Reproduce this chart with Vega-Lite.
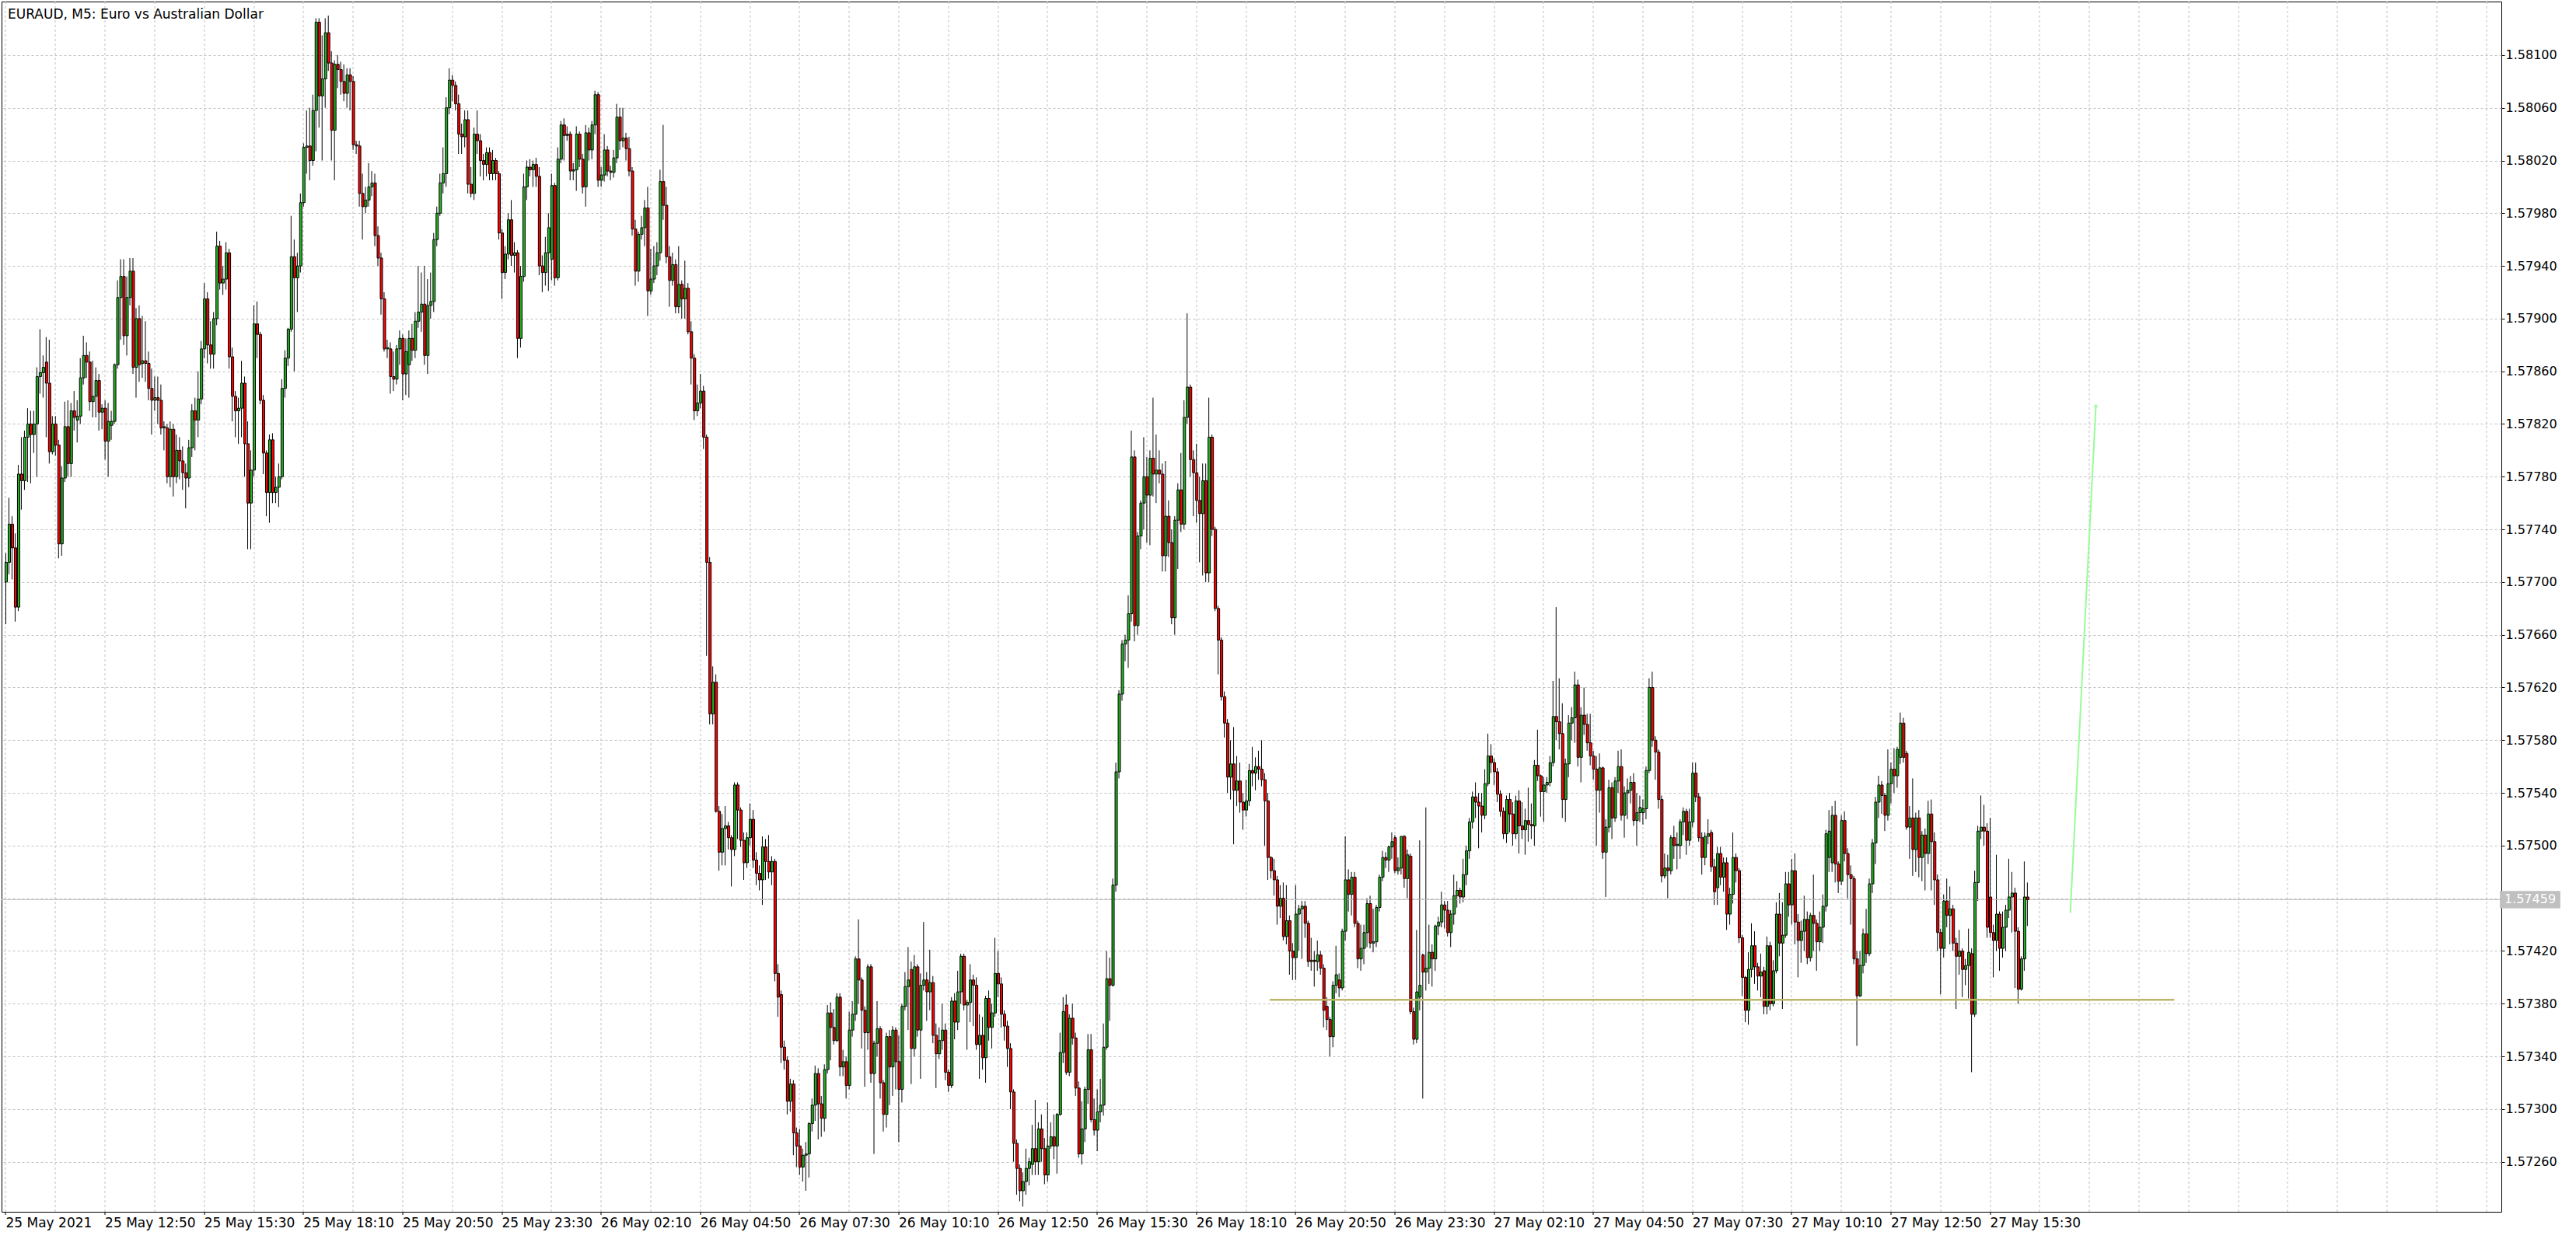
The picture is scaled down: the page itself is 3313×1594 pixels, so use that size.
{
"$schema":"https://vega.github.io/schema/vega-lite/v6.json",
"width":3215,"height":1557,
"autosize":{"type":"none"},
"padding":{"left":2,"top":2,"right":96,"bottom":35},
"background":"white",
"config":{"view":{"stroke":"black","strokeWidth":1},"font":"DejaVu Sans"},
"title":{"text":"EURAUD, M5:  Euro vs Australian Dollar","anchor":"start","frame":"group","offset":-20,"dx":8,"dy":19,"fontSize":17,"font":"DejaVu Sans","fontWeight":"normal","color":"black","baseline":"alphabetic"},
"data":{"values":[
{"i":0,"o":1.57700,"h":1.57722,"l":1.57668,"c":1.57715},
{"i":1,"o":1.57715,"h":1.57764,"l":1.57706,"c":1.57744},
{"i":2,"o":1.57744,"h":1.57750,"l":1.57702,"c":1.57726},
{"i":3,"o":1.57726,"h":1.57737,"l":1.57670,"c":1.57681},
{"i":4,"o":1.57681,"h":1.57789,"l":1.57678,"c":1.57782},
{"i":5,"o":1.57782,"h":1.57810,"l":1.57755,"c":1.57777},
{"i":6,"o":1.57777,"h":1.57815,"l":1.57770,"c":1.57810},
{"i":7,"o":1.57810,"h":1.57832,"l":1.57776,"c":1.57820},
{"i":8,"o":1.57820,"h":1.57830,"l":1.57775,"c":1.57812},
{"i":9,"o":1.57812,"h":1.57830,"l":1.57798,"c":1.57820},
{"i":10,"o":1.57820,"h":1.57863,"l":1.57780,"c":1.57856},
{"i":11,"o":1.57856,"h":1.57892,"l":1.57843,"c":1.57859},
{"i":12,"o":1.57859,"h":1.57872,"l":1.57840,"c":1.57863},
{"i":13,"o":1.57867,"h":1.57886,"l":1.57810,"c":1.57851},
{"i":14,"o":1.57851,"h":1.57884,"l":1.57790,"c":1.57799},
{"i":15,"o":1.57799,"h":1.57826,"l":1.57797,"c":1.57820},
{"i":16,"o":1.57820,"h":1.57826,"l":1.57796,"c":1.57804},
{"i":17,"o":1.57804,"h":1.57808,"l":1.57718,"c":1.57729},
{"i":18,"o":1.57729,"h":1.57788,"l":1.57720,"c":1.57779},
{"i":19,"o":1.57779,"h":1.57837,"l":1.57776,"c":1.57818},
{"i":20,"o":1.57818,"h":1.57838,"l":1.57780,"c":1.57790},
{"i":21,"o":1.57790,"h":1.57836,"l":1.57780,"c":1.57830},
{"i":22,"o":1.57830,"h":1.57845,"l":1.57815,"c":1.57825},
{"i":23,"o":1.57823,"h":1.57838,"l":1.57806,"c":1.57826},
{"i":24,"o":1.57826,"h":1.57870,"l":1.57820,"c":1.57855},
{"i":25,"o":1.57855,"h":1.57887,"l":1.57850,"c":1.57872},
{"i":26,"o":1.57872,"h":1.57882,"l":1.57855,"c":1.57867},
{"i":27,"o":1.57867,"h":1.57875,"l":1.57830,"c":1.57837},
{"i":28,"o":1.57837,"h":1.57868,"l":1.57825,"c":1.57841},
{"i":29,"o":1.57841,"h":1.57863,"l":1.57825,"c":1.57853},
{"i":30,"o":1.57853,"h":1.57858,"l":1.57815,"c":1.57829},
{"i":31,"o":1.57829,"h":1.57835,"l":1.57816,"c":1.57832},
{"i":32,"o":1.57832,"h":1.57838,"l":1.57793,"c":1.57807},
{"i":33,"o":1.57807,"h":1.57836,"l":1.57780,"c":1.57822},
{"i":34,"o":1.57819,"h":1.57830,"l":1.57808,"c":1.57822},
{"i":35,"o":1.57822,"h":1.57866,"l":1.57820,"c":1.57865},
{"i":36,"o":1.57865,"h":1.57929,"l":1.57862,"c":1.57916},
{"i":37,"o":1.57916,"h":1.57945,"l":1.57884,"c":1.57932},
{"i":38,"o":1.57932,"h":1.57945,"l":1.57880,"c":1.57887},
{"i":39,"o":1.57887,"h":1.57932,"l":1.57872,"c":1.57916},
{"i":40,"o":1.57916,"h":1.57946,"l":1.57910,"c":1.57936},
{"i":41,"o":1.57936,"h":1.57946,"l":1.57858,"c":1.57863},
{"i":42,"o":1.57863,"h":1.57908,"l":1.57840,"c":1.57900},
{"i":43,"o":1.57900,"h":1.57910,"l":1.57852,"c":1.57865},
{"i":44,"o":1.57866,"h":1.57902,"l":1.57855,"c":1.57868},
{"i":45,"o":1.57868,"h":1.57898,"l":1.57852,"c":1.57866},
{"i":46,"o":1.57866,"h":1.57875,"l":1.57838,"c":1.57847},
{"i":47,"o":1.57847,"h":1.57862,"l":1.57812,"c":1.57838},
{"i":48,"o":1.57838,"h":1.57856,"l":1.57830,"c":1.57840},
{"i":49,"o":1.57840,"h":1.57856,"l":1.57820,"c":1.57838},
{"i":50,"o":1.57838,"h":1.57850,"l":1.57812,"c":1.57817},
{"i":51,"o":1.57817,"h":1.57822,"l":1.57800,"c":1.57818},
{"i":52,"o":1.57817,"h":1.57820,"l":1.57775,"c":1.57780},
{"i":53,"o":1.57780,"h":1.57822,"l":1.57772,"c":1.57816},
{"i":54,"o":1.57816,"h":1.57820,"l":1.57765,"c":1.57780},
{"i":55,"o":1.57780,"h":1.57812,"l":1.57775,"c":1.57800},
{"i":56,"o":1.57800,"h":1.57810,"l":1.57778,"c":1.57792},
{"i":57,"o":1.57792,"h":1.57803,"l":1.57770,"c":1.57783},
{"i":58,"o":1.57783,"h":1.57790,"l":1.57756,"c":1.57779},
{"i":59,"o":1.57779,"h":1.57808,"l":1.57772,"c":1.57802},
{"i":60,"o":1.57802,"h":1.57835,"l":1.57795,"c":1.57830},
{"i":61,"o":1.57830,"h":1.57840,"l":1.57800,"c":1.57823},
{"i":62,"o":1.57823,"h":1.57860,"l":1.57810,"c":1.57839},
{"i":63,"o":1.57839,"h":1.57883,"l":1.57835,"c":1.57877},
{"i":64,"o":1.57877,"h":1.57927,"l":1.57870,"c":1.57915},
{"i":65,"o":1.57915,"h":1.57920,"l":1.57866,"c":1.57880},
{"i":66,"o":1.57880,"h":1.57898,"l":1.57862,"c":1.57873},
{"i":67,"o":1.57873,"h":1.57905,"l":1.57862,"c":1.57900},
{"i":68,"o":1.57900,"h":1.57966,"l":1.57895,"c":1.57955},
{"i":69,"o":1.57955,"h":1.57959,"l":1.57922,"c":1.57927},
{"i":70,"o":1.57927,"h":1.57940,"l":1.57918,"c":1.57930},
{"i":71,"o":1.57930,"h":1.57958,"l":1.57922,"c":1.57950},
{"i":72,"o":1.57950,"h":1.57953,"l":1.57862,"c":1.57871},
{"i":73,"o":1.57871,"h":1.57878,"l":1.57822,"c":1.57841},
{"i":74,"o":1.57841,"h":1.57845,"l":1.57810,"c":1.57830},
{"i":75,"o":1.57830,"h":1.57840,"l":1.57805,"c":1.57832},
{"i":76,"o":1.57832,"h":1.57868,"l":1.57810,"c":1.57851},
{"i":77,"o":1.57851,"h":1.57856,"l":1.57780,"c":1.57805},
{"i":78,"o":1.57805,"h":1.57822,"l":1.57725,"c":1.57760},
{"i":79,"o":1.57760,"h":1.57800,"l":1.57725,"c":1.57785},
{"i":80,"o":1.57785,"h":1.57910,"l":1.57780,"c":1.57896},
{"i":81,"o":1.57896,"h":1.57913,"l":1.57870,"c":1.57888},
{"i":82,"o":1.57888,"h":1.57890,"l":1.57835,"c":1.57838},
{"i":83,"o":1.57838,"h":1.57842,"l":1.57782,"c":1.57798},
{"i":84,"o":1.57798,"h":1.57800,"l":1.57750,"c":1.57768},
{"i":85,"o":1.57768,"h":1.57812,"l":1.57745,"c":1.57808},
{"i":86,"o":1.57808,"h":1.57813,"l":1.57760,"c":1.57768},
{"i":87,"o":1.57768,"h":1.57780,"l":1.57760,"c":1.57772},
{"i":88,"o":1.57772,"h":1.57790,"l":1.57757,"c":1.57780},
{"i":89,"o":1.57780,"h":1.57854,"l":1.57778,"c":1.57847},
{"i":90,"o":1.57847,"h":1.57876,"l":1.57840,"c":1.57870},
{"i":91,"o":1.57870,"h":1.57893,"l":1.57864,"c":1.57892},
{"i":92,"o":1.57892,"h":1.57978,"l":1.57890,"c":1.57947},
{"i":93,"o":1.57947,"h":1.57960,"l":1.57860,"c":1.57931},
{"i":94,"o":1.57931,"h":1.57950,"l":1.57905,"c":1.57940},
{"i":95,"o":1.57940,"h":1.57995,"l":1.57935,"c":1.57988},
{"i":96,"o":1.57988,"h":1.58033,"l":1.57985,"c":1.58030},
{"i":97,"o":1.58030,"h":1.58058,"l":1.58010,"c":1.58031},
{"i":98,"o":1.58031,"h":1.58060,"l":1.58005,"c":1.58020},
{"i":99,"o":1.58020,"h":1.58070,"l":1.58016,"c":1.58058},
{"i":100,"o":1.58058,"h":1.58128,"l":1.58027,"c":1.58125},
{"i":101,"o":1.58125,"h":1.58128,"l":1.58045,"c":1.58069},
{"i":102,"o":1.58069,"h":1.58115,"l":1.58020,"c":1.58082},
{"i":103,"o":1.58082,"h":1.58128,"l":1.58060,"c":1.58117},
{"i":104,"o":1.58117,"h":1.58130,"l":1.58088,"c":1.58094},
{"i":105,"o":1.58094,"h":1.58103,"l":1.58020,"c":1.58043},
{"i":106,"o":1.58043,"h":1.58096,"l":1.58005,"c":1.58093},
{"i":107,"o":1.58093,"h":1.58100,"l":1.58075,"c":1.58089},
{"i":108,"o":1.58089,"h":1.58095,"l":1.58070,"c":1.58080},
{"i":109,"o":1.58080,"h":1.58093,"l":1.58065,"c":1.58071},
{"i":110,"o":1.58071,"h":1.58090,"l":1.58060,"c":1.58085},
{"i":111,"o":1.58085,"h":1.58090,"l":1.58058,"c":1.58080},
{"i":112,"o":1.58080,"h":1.58084,"l":1.58028,"c":1.58032},
{"i":113,"o":1.58032,"h":1.58035,"l":1.58025,"c":1.58031},
{"i":114,"o":1.58031,"h":1.58035,"l":1.57985,"c":1.57995},
{"i":115,"o":1.57995,"h":1.58010,"l":1.57960,"c":1.57985},
{"i":116,"o":1.57985,"h":1.58000,"l":1.57980,"c":1.57990},
{"i":117,"o":1.57990,"h":1.58018,"l":1.57985,"c":1.58000},
{"i":118,"o":1.58000,"h":1.58012,"l":1.57993,"c":1.58003},
{"i":119,"o":1.58003,"h":1.58010,"l":1.57955,"c":1.57963},
{"i":120,"o":1.57963,"h":1.57970,"l":1.57940,"c":1.57946},
{"i":121,"o":1.57946,"h":1.57950,"l":1.57903,"c":1.57915},
{"i":122,"o":1.57915,"h":1.57920,"l":1.57875,"c":1.57877},
{"i":123,"o":1.57877,"h":1.57884,"l":1.57870,"c":1.57878},
{"i":124,"o":1.57877,"h":1.57882,"l":1.57843,"c":1.57856},
{"i":125,"o":1.57856,"h":1.57875,"l":1.57845,"c":1.57854},
{"i":126,"o":1.57854,"h":1.57880,"l":1.57850,"c":1.57877},
{"i":127,"o":1.57877,"h":1.57891,"l":1.57865,"c":1.57885},
{"i":128,"o":1.57885,"h":1.57888,"l":1.57838,"c":1.57858},
{"i":129,"o":1.57858,"h":1.57885,"l":1.57842,"c":1.57875},
{"i":130,"o":1.57865,"h":1.57891,"l":1.57840,"c":1.57885},
{"i":131,"o":1.57885,"h":1.57896,"l":1.57868,"c":1.57876},
{"i":132,"o":1.57876,"h":1.57905,"l":1.57870,"c":1.57898},
{"i":133,"o":1.57898,"h":1.57940,"l":1.57893,"c":1.57905},
{"i":134,"o":1.57905,"h":1.57935,"l":1.57890,"c":1.57911},
{"i":135,"o":1.57911,"h":1.57940,"l":1.57865,"c":1.57872},
{"i":136,"o":1.57872,"h":1.57930,"l":1.57858,"c":1.57910},
{"i":137,"o":1.57910,"h":1.57935,"l":1.57900,"c":1.57913},
{"i":138,"o":1.57913,"h":1.57965,"l":1.57905,"c":1.57960},
{"i":139,"o":1.57960,"h":1.57985,"l":1.57955,"c":1.57980},
{"i":140,"o":1.57980,"h":1.58010,"l":1.57978,"c":1.58003},
{"i":141,"o":1.58003,"h":1.58030,"l":1.57995,"c":1.58010},
{"i":142,"o":1.58010,"h":1.58068,"l":1.58000,"c":1.58060},
{"i":143,"o":1.58060,"h":1.58090,"l":1.58055,"c":1.58081},
{"i":144,"o":1.58081,"h":1.58085,"l":1.58065,"c":1.58077},
{"i":145,"o":1.58077,"h":1.58080,"l":1.58058,"c":1.58063},
{"i":146,"o":1.58063,"h":1.58070,"l":1.58025,"c":1.58040},
{"i":147,"o":1.58040,"h":1.58048,"l":1.58025,"c":1.58038},
{"i":148,"o":1.58038,"h":1.58058,"l":1.58030,"c":1.58051},
{"i":149,"o":1.58051,"h":1.58058,"l":1.57995,"c":1.58002},
{"i":150,"o":1.58002,"h":1.58015,"l":1.57992,"c":1.57995},
{"i":151,"o":1.57995,"h":1.58045,"l":1.57990,"c":1.58040},
{"i":152,"o":1.58040,"h":1.58058,"l":1.58025,"c":1.58035},
{"i":153,"o":1.58035,"h":1.58040,"l":1.58008,"c":1.58020},
{"i":154,"o":1.58020,"h":1.58025,"l":1.58005,"c":1.58017},
{"i":155,"o":1.58017,"h":1.58030,"l":1.58008,"c":1.58026},
{"i":156,"o":1.58026,"h":1.58030,"l":1.58005,"c":1.58010},
{"i":157,"o":1.58010,"h":1.58028,"l":1.58005,"c":1.58020},
{"i":158,"o":1.58020,"h":1.58022,"l":1.58005,"c":1.58010},
{"i":159,"o":1.58010,"h":1.58012,"l":1.57960,"c":1.57965},
{"i":160,"o":1.57965,"h":1.57968,"l":1.57915,"c":1.57935},
{"i":161,"o":1.57935,"h":1.57955,"l":1.57930,"c":1.57949},
{"i":162,"o":1.57949,"h":1.57980,"l":1.57945,"c":1.57975},
{"i":163,"o":1.57975,"h":1.57990,"l":1.57940,"c":1.57948},
{"i":164,"o":1.57948,"h":1.57958,"l":1.57935,"c":1.57950},
{"i":165,"o":1.57950,"h":1.57952,"l":1.57870,"c":1.57885},
{"i":166,"o":1.57885,"h":1.57940,"l":1.57878,"c":1.57932},
{"i":167,"o":1.57932,"h":1.58010,"l":1.57928,"c":1.58000},
{"i":168,"o":1.58000,"h":1.58020,"l":1.57990,"c":1.58015},
{"i":169,"o":1.58015,"h":1.58021,"l":1.58008,"c":1.58013},
{"i":170,"o":1.58013,"h":1.58020,"l":1.58000,"c":1.58017},
{"i":171,"o":1.58017,"h":1.58022,"l":1.58000,"c":1.58008},
{"i":172,"o":1.58008,"h":1.58015,"l":1.57933,"c":1.57940},
{"i":173,"o":1.57940,"h":1.57948,"l":1.57920,"c":1.57935},
{"i":174,"o":1.57935,"h":1.57962,"l":1.57925,"c":1.57950},
{"i":175,"o":1.57950,"h":1.57980,"l":1.57921,"c":1.57969},
{"i":176,"o":1.57945,"h":1.58010,"l":1.57929,"c":1.58001},
{"i":177,"o":1.58001,"h":1.58003,"l":1.57925,"c":1.57931},
{"i":178,"o":1.57931,"h":1.58030,"l":1.57929,"c":1.58021},
{"i":179,"o":1.58021,"h":1.58050,"l":1.58018,"c":1.58047},
{"i":180,"o":1.58047,"h":1.58052,"l":1.58020,"c":1.58039},
{"i":181,"o":1.58039,"h":1.58046,"l":1.58035,"c":1.58040},
{"i":182,"o":1.58040,"h":1.58042,"l":1.58005,"c":1.58012},
{"i":183,"o":1.58012,"h":1.58018,"l":1.58005,"c":1.58013},
{"i":184,"o":1.58013,"h":1.58046,"l":1.57997,"c":1.58040},
{"i":185,"o":1.58040,"h":1.58042,"l":1.58015,"c":1.58021},
{"i":186,"o":1.58021,"h":1.58025,"l":1.57995,"c":1.58000},
{"i":187,"o":1.58000,"h":1.58047,"l":1.57985,"c":1.58041},
{"i":188,"o":1.58041,"h":1.58045,"l":1.58020,"c":1.58028},
{"i":189,"o":1.58028,"h":1.58050,"l":1.58021,"c":1.58047},
{"i":190,"o":1.58047,"h":1.58073,"l":1.58040,"c":1.58070},
{"i":191,"o":1.58070,"h":1.58072,"l":1.58000,"c":1.58005},
{"i":192,"o":1.58005,"h":1.58015,"l":1.58000,"c":1.58009},
{"i":193,"o":1.58009,"h":1.58040,"l":1.58004,"c":1.58028},
{"i":194,"o":1.58028,"h":1.58031,"l":1.58008,"c":1.58012},
{"i":195,"o":1.58012,"h":1.58016,"l":1.58005,"c":1.58011},
{"i":196,"o":1.58011,"h":1.58028,"l":1.58007,"c":1.58022},
{"i":197,"o":1.58022,"h":1.58063,"l":1.58018,"c":1.58053},
{"i":198,"o":1.58053,"h":1.58060,"l":1.58028,"c":1.58035},
{"i":199,"o":1.58035,"h":1.58060,"l":1.58030,"c":1.58037},
{"i":200,"o":1.58037,"h":1.58041,"l":1.58020,"c":1.58029},
{"i":201,"o":1.58029,"h":1.58038,"l":1.58008,"c":1.58012},
{"i":202,"o":1.58012,"h":1.58015,"l":1.57963,"c":1.57968},
{"i":203,"o":1.57968,"h":1.57975,"l":1.57925,"c":1.57936},
{"i":204,"o":1.57936,"h":1.57966,"l":1.57928,"c":1.57964},
{"i":205,"o":1.57964,"h":1.57978,"l":1.57960,"c":1.57969},
{"i":206,"o":1.57969,"h":1.57990,"l":1.57955,"c":1.57984},
{"i":207,"o":1.57984,"h":1.58000,"l":1.57902,"c":1.57921},
{"i":208,"o":1.57921,"h":1.57953,"l":1.57918,"c":1.57930},
{"i":209,"o":1.57930,"h":1.57955,"l":1.57927,"c":1.57940},
{"i":210,"o":1.57940,"h":1.57958,"l":1.57933,"c":1.57950},
{"i":211,"o":1.57950,"h":1.58013,"l":1.57944,"c":1.58004},
{"i":212,"o":1.58004,"h":1.58047,"l":1.57975,"c":1.57986},
{"i":213,"o":1.57986,"h":1.58000,"l":1.57942,"c":1.57947},
{"i":214,"o":1.57947,"h":1.57955,"l":1.57909,"c":1.57929},
{"i":215,"o":1.57929,"h":1.57950,"l":1.57925,"c":1.57941},
{"i":216,"o":1.57941,"h":1.57945,"l":1.57904,"c":1.57909},
{"i":217,"o":1.57909,"h":1.57955,"l":1.57904,"c":1.57926},
{"i":218,"o":1.57926,"h":1.57929,"l":1.57900,"c":1.57915},
{"i":219,"o":1.57915,"h":1.57944,"l":1.57900,"c":1.57923},
{"i":220,"o":1.57923,"h":1.57927,"l":1.57888,"c":1.57890},
{"i":221,"o":1.57890,"h":1.57898,"l":1.57850,"c":1.57870},
{"i":222,"o":1.57870,"h":1.57873,"l":1.57823,"c":1.57830},
{"i":223,"o":1.57830,"h":1.57850,"l":1.57826,"c":1.57836},
{"i":224,"o":1.57836,"h":1.57858,"l":1.57832,"c":1.57845},
{"i":225,"o":1.57845,"h":1.57849,"l":1.57801,"c":1.57810},
{"i":226,"o":1.57810,"h":1.57812,"l":1.57644,"c":1.57715},
{"i":227,"o":1.57715,"h":1.57719,"l":1.57592,"c":1.57600},
{"i":228,"o":1.57600,"h":1.57636,"l":1.57592,"c":1.57624},
{"i":229,"o":1.57624,"h":1.57630,"l":1.57525,"c":1.57526},
{"i":230,"o":1.57526,"h":1.57530,"l":1.57481,"c":1.57495},
{"i":231,"o":1.57495,"h":1.57524,"l":1.57485,"c":1.57513},
{"i":232,"o":1.57513,"h":1.57530,"l":1.57485,"c":1.57515},
{"i":233,"o":1.57515,"h":1.57518,"l":1.57497,"c":1.57506},
{"i":234,"o":1.57506,"h":1.57508,"l":1.57469,"c":1.57497},
{"i":235,"o":1.57497,"h":1.57548,"l":1.57492,"c":1.57546},
{"i":236,"o":1.57546,"h":1.57548,"l":1.57505,"c":1.57527},
{"i":237,"o":1.57527,"h":1.57529,"l":1.57499,"c":1.57504},
{"i":238,"o":1.57504,"h":1.57510,"l":1.57474,"c":1.57487},
{"i":239,"o":1.57487,"h":1.57510,"l":1.57483,"c":1.57506},
{"i":240,"o":1.57506,"h":1.57532,"l":1.57500,"c":1.57520},
{"i":241,"o":1.57520,"h":1.57527,"l":1.57483,"c":1.57489},
{"i":242,"o":1.57489,"h":1.57495,"l":1.57470,"c":1.57479},
{"i":243,"o":1.57479,"h":1.57485,"l":1.57466,"c":1.57474},
{"i":244,"o":1.57474,"h":1.57507,"l":1.57455,"c":1.57499},
{"i":245,"o":1.57499,"h":1.57505,"l":1.57474,"c":1.57488},
{"i":246,"o":1.57488,"h":1.57508,"l":1.57475,"c":1.57480},
{"i":247,"o":1.57480,"h":1.57492,"l":1.57470,"c":1.57488},
{"i":248,"o":1.57488,"h":1.57490,"l":1.57397,"c":1.57403},
{"i":249,"o":1.57403,"h":1.57410,"l":1.57370,"c":1.57385},
{"i":250,"o":1.57387,"h":1.57390,"l":1.57335,"c":1.57347},
{"i":251,"o":1.57347,"h":1.57352,"l":1.57330,"c":1.57337},
{"i":252,"o":1.57337,"h":1.57340,"l":1.57296,"c":1.57306},
{"i":253,"o":1.57306,"h":1.57323,"l":1.57298,"c":1.57319},
{"i":254,"o":1.57319,"h":1.57322,"l":1.57265,"c":1.57282},
{"i":255,"o":1.57282,"h":1.57286,"l":1.57256,"c":1.57272},
{"i":256,"o":1.57272,"h":1.57285,"l":1.57250,"c":1.57256},
{"i":257,"o":1.57256,"h":1.57270,"l":1.57245,"c":1.57265},
{"i":258,"o":1.57265,"h":1.57275,"l":1.57238,"c":1.57266},
{"i":259,"o":1.57266,"h":1.57290,"l":1.57248,"c":1.57289},
{"i":260,"o":1.57289,"h":1.57308,"l":1.57283,"c":1.57303},
{"i":261,"o":1.57303,"h":1.57333,"l":1.57291,"c":1.57327},
{"i":262,"o":1.57327,"h":1.57331,"l":1.57277,"c":1.57304},
{"i":263,"o":1.57304,"h":1.57310,"l":1.57279,"c":1.57293},
{"i":264,"o":1.57293,"h":1.57334,"l":1.57283,"c":1.57330},
{"i":265,"o":1.57330,"h":1.57379,"l":1.57327,"c":1.57373},
{"i":266,"o":1.57373,"h":1.57381,"l":1.57337,"c":1.57362},
{"i":267,"o":1.57362,"h":1.57376,"l":1.57349,"c":1.57352},
{"i":268,"o":1.57352,"h":1.57388,"l":1.57351,"c":1.57385},
{"i":269,"o":1.57385,"h":1.57388,"l":1.57325,"c":1.57332},
{"i":270,"o":1.57332,"h":1.57345,"l":1.57325,"c":1.57336},
{"i":271,"o":1.57336,"h":1.57340,"l":1.57308,"c":1.57318},
{"i":272,"o":1.57318,"h":1.57374,"l":1.57315,"c":1.57360},
{"i":273,"o":1.57360,"h":1.57382,"l":1.57355,"c":1.57372},
{"i":274,"o":1.57372,"h":1.57416,"l":1.57367,"c":1.57414},
{"i":275,"o":1.57414,"h":1.57444,"l":1.57380,"c":1.57398},
{"i":276,"o":1.57398,"h":1.57400,"l":1.57346,"c":1.57375},
{"i":277,"o":1.57375,"h":1.57378,"l":1.57317,"c":1.57358},
{"i":278,"o":1.57358,"h":1.57410,"l":1.57345,"c":1.57408},
{"i":279,"o":1.57408,"h":1.57410,"l":1.57320,"c":1.57327},
{"i":280,"o":1.57327,"h":1.57352,"l":1.57266,"c":1.57350},
{"i":281,"o":1.57350,"h":1.57382,"l":1.57340,"c":1.57361},
{"i":282,"o":1.57361,"h":1.57363,"l":1.57308,"c":1.57320},
{"i":283,"o":1.57320,"h":1.57322,"l":1.57283,"c":1.57296},
{"i":284,"o":1.57296,"h":1.57358,"l":1.57286,"c":1.57355},
{"i":285,"o":1.57355,"h":1.57360,"l":1.57303,"c":1.57332},
{"i":286,"o":1.57332,"h":1.57363,"l":1.57310,"c":1.57360},
{"i":287,"o":1.57360,"h":1.57362,"l":1.57315,"c":1.57336},
{"i":288,"o":1.57336,"h":1.57356,"l":1.57275,"c":1.57315},
{"i":289,"o":1.57315,"h":1.57380,"l":1.57305,"c":1.57378},
{"i":290,"o":1.57378,"h":1.57404,"l":1.57375,"c":1.57393},
{"i":291,"o":1.57393,"h":1.57423,"l":1.57360,"c":1.57398},
{"i":292,"o":1.57406,"h":1.57412,"l":1.57319,"c":1.57346},
{"i":293,"o":1.57346,"h":1.57417,"l":1.57340,"c":1.57408},
{"i":294,"o":1.57408,"h":1.57410,"l":1.57355,"c":1.57360},
{"i":295,"o":1.57360,"h":1.57403,"l":1.57323,"c":1.57394},
{"i":296,"o":1.57394,"h":1.57442,"l":1.57390,"c":1.57398},
{"i":297,"o":1.57398,"h":1.57404,"l":1.57367,"c":1.57389},
{"i":298,"o":1.57389,"h":1.57421,"l":1.57375,"c":1.57396},
{"i":299,"o":1.57396,"h":1.57401,"l":1.57350,"c":1.57356},
{"i":300,"o":1.57356,"h":1.57365,"l":1.57316,"c":1.57342},
{"i":301,"o":1.57342,"h":1.57362,"l":1.57338,"c":1.57352},
{"i":302,"o":1.57352,"h":1.57380,"l":1.57345,"c":1.57360},
{"i":303,"o":1.57360,"h":1.57365,"l":1.57322,"c":1.57328},
{"i":304,"o":1.57328,"h":1.57330,"l":1.57313,"c":1.57318},
{"i":305,"o":1.57318,"h":1.57385,"l":1.57316,"c":1.57382},
{"i":306,"o":1.57382,"h":1.57388,"l":1.57353,"c":1.57366},
{"i":307,"o":1.57366,"h":1.57405,"l":1.57360,"c":1.57389},
{"i":308,"o":1.57389,"h":1.57418,"l":1.57380,"c":1.57416},
{"i":309,"o":1.57416,"h":1.57418,"l":1.57375,"c":1.57379},
{"i":310,"o":1.57379,"h":1.57383,"l":1.57345,"c":1.57381},
{"i":311,"o":1.57381,"h":1.57410,"l":1.57366,"c":1.57398},
{"i":312,"o":1.57398,"h":1.57402,"l":1.57363,"c":1.57394},
{"i":313,"o":1.57394,"h":1.57400,"l":1.57345,"c":1.57349},
{"i":314,"o":1.57349,"h":1.57372,"l":1.57323,"c":1.57356},
{"i":315,"o":1.57356,"h":1.57370,"l":1.57330,"c":1.57339},
{"i":316,"o":1.57339,"h":1.57386,"l":1.57320,"c":1.57384},
{"i":317,"o":1.57384,"h":1.57390,"l":1.57352,"c":1.57362},
{"i":318,"o":1.57362,"h":1.57380,"l":1.57346,"c":1.57373},
{"i":319,"o":1.57373,"h":1.57430,"l":1.57370,"c":1.57403},
{"i":320,"o":1.57403,"h":1.57420,"l":1.57385,"c":1.57395},
{"i":321,"o":1.57395,"h":1.57400,"l":1.57362,"c":1.57372},
{"i":322,"o":1.57372,"h":1.57375,"l":1.57352,"c":1.57363},
{"i":323,"o":1.57363,"h":1.57367,"l":1.57332,"c":1.57346},
{"i":324,"o":1.57346,"h":1.57350,"l":1.57300,"c":1.57313},
{"i":325,"o":1.57313,"h":1.57315,"l":1.57260,"c":1.57274},
{"i":326,"o":1.57274,"h":1.57277,"l":1.57235,"c":1.57255},
{"i":327,"o":1.57255,"h":1.57258,"l":1.57230,"c":1.57238},
{"i":328,"o":1.57238,"h":1.57252,"l":1.57226,"c":1.57245},
{"i":329,"o":1.57245,"h":1.57270,"l":1.57235,"c":1.57255},
{"i":330,"o":1.57255,"h":1.57263,"l":1.57242,"c":1.57260},
{"i":331,"o":1.57258,"h":1.57288,"l":1.57250,"c":1.57270},
{"i":332,"o":1.57270,"h":1.57307,"l":1.57250,"c":1.57260},
{"i":333,"o":1.57260,"h":1.57290,"l":1.57250,"c":1.57285},
{"i":334,"o":1.57285,"h":1.57296,"l":1.57260,"c":1.57270},
{"i":335,"o":1.57270,"h":1.57278,"l":1.57243,"c":1.57250},
{"i":336,"o":1.57250,"h":1.57305,"l":1.57245,"c":1.57272},
{"i":337,"o":1.57272,"h":1.57290,"l":1.57270,"c":1.57279},
{"i":338,"o":1.57279,"h":1.57296,"l":1.57262,"c":1.57272},
{"i":339,"o":1.57272,"h":1.57297,"l":1.57251,"c":1.57296},
{"i":340,"o":1.57296,"h":1.57358,"l":1.57295,"c":1.57343},
{"i":341,"o":1.57343,"h":1.57385,"l":1.57335,"c":1.57374},
{"i":342,"o":1.57379,"h":1.57387,"l":1.57326,"c":1.57328},
{"i":343,"o":1.57328,"h":1.57372,"l":1.57325,"c":1.57369},
{"i":344,"o":1.57369,"h":1.57380,"l":1.57349,"c":1.57354},
{"i":345,"o":1.57354,"h":1.57358,"l":1.57310,"c":1.57316},
{"i":346,"o":1.57316,"h":1.57321,"l":1.57263,"c":1.57266},
{"i":347,"o":1.57266,"h":1.57306,"l":1.57258,"c":1.57285},
{"i":348,"o":1.57285,"h":1.57317,"l":1.57275,"c":1.57315},
{"i":349,"o":1.57315,"h":1.57357,"l":1.57304,"c":1.57345},
{"i":350,"o":1.57345,"h":1.57357,"l":1.57290,"c":1.57292},
{"i":351,"o":1.57292,"h":1.57308,"l":1.57280,"c":1.57284},
{"i":352,"o":1.57284,"h":1.57315,"l":1.57268,"c":1.57298},
{"i":353,"o":1.57298,"h":1.57323,"l":1.57290,"c":1.57303},
{"i":354,"o":1.57303,"h":1.57365,"l":1.57295,"c":1.57347},
{"i":355,"o":1.57347,"h":1.57420,"l":1.57345,"c":1.57399},
{"i":356,"o":1.57399,"h":1.57415,"l":1.57367,"c":1.57394},
{"i":357,"o":1.57394,"h":1.57475,"l":1.57393,"c":1.57470},
{"i":358,"o":1.57470,"h":1.57563,"l":1.57465,"c":1.57556},
{"i":359,"o":1.57556,"h":1.57618,"l":1.57551,"c":1.57615},
{"i":360,"o":1.57615,"h":1.57656,"l":1.57610,"c":1.57653},
{"i":361,"o":1.57653,"h":1.57660,"l":1.57640,"c":1.57656},
{"i":362,"o":1.57656,"h":1.57690,"l":1.57635,"c":1.57676},
{"i":363,"o":1.57676,"h":1.57815,"l":1.57670,"c":1.57795},
{"i":364,"o":1.57795,"h":1.57800,"l":1.57655,"c":1.57667},
{"i":365,"o":1.57667,"h":1.57738,"l":1.57660,"c":1.57735},
{"i":366,"o":1.57735,"h":1.57762,"l":1.57725,"c":1.57760},
{"i":367,"o":1.57760,"h":1.57810,"l":1.57740,"c":1.57780},
{"i":368,"o":1.57780,"h":1.57795,"l":1.57730,"c":1.57766},
{"i":369,"o":1.57766,"h":1.57800,"l":1.57728,"c":1.57794},
{"i":370,"o":1.57794,"h":1.57840,"l":1.57765,"c":1.57782},
{"i":371,"o":1.57782,"h":1.57812,"l":1.57760,"c":1.57785},
{"i":372,"o":1.57785,"h":1.57800,"l":1.57775,"c":1.57782},
{"i":373,"o":1.57782,"h":1.57790,"l":1.57708,"c":1.57720},
{"i":374,"o":1.57720,"h":1.57792,"l":1.57708,"c":1.57750},
{"i":375,"o":1.57750,"h":1.57762,"l":1.57719,"c":1.57730},
{"i":376,"o":1.57730,"h":1.57740,"l":1.57668,"c":1.57673},
{"i":377,"o":1.57673,"h":1.57750,"l":1.57660,"c":1.57747},
{"i":378,"o":1.57747,"h":1.57775,"l":1.57710,"c":1.57770},
{"i":379,"o":1.57770,"h":1.57798,"l":1.57738,"c":1.57744},
{"i":380,"o":1.57744,"h":1.57838,"l":1.57740,"c":1.57825},
{"i":381,"o":1.57825,"h":1.57904,"l":1.57820,"c":1.57848},
{"i":382,"o":1.57848,"h":1.57850,"l":1.57780,"c":1.57793},
{"i":383,"o":1.57793,"h":1.57800,"l":1.57750,"c":1.57783},
{"i":384,"o":1.57783,"h":1.57805,"l":1.57745,"c":1.57762},
{"i":385,"o":1.57762,"h":1.57780,"l":1.57715,"c":1.57752},
{"i":386,"o":1.57752,"h":1.57790,"l":1.57705,"c":1.57777},
{"i":387,"o":1.57777,"h":1.57790,"l":1.57700,"c":1.57707},
{"i":388,"o":1.57707,"h":1.57840,"l":1.57700,"c":1.57810},
{"i":389,"o":1.57810,"h":1.57812,"l":1.57735,"c":1.57740},
{"i":390,"o":1.57740,"h":1.57742,"l":1.57678,"c":1.57680},
{"i":391,"o":1.57680,"h":1.57682,"l":1.57630,"c":1.57656},
{"i":392,"o":1.57656,"h":1.57658,"l":1.57610,"c":1.57613},
{"i":393,"o":1.57613,"h":1.57617,"l":1.57582,"c":1.57593},
{"i":394,"o":1.57593,"h":1.57596,"l":1.57540,"c":1.57552},
{"i":395,"o":1.57552,"h":1.57580,"l":1.57535,"c":1.57562},
{"i":396,"o":1.57562,"h":1.57590,"l":1.57501,"c":1.57542},
{"i":397,"o":1.57542,"h":1.57568,"l":1.57530,"c":1.57549},
{"i":398,"o":1.57549,"h":1.57563,"l":1.57525,"c":1.57533},
{"i":399,"o":1.57533,"h":1.57540,"l":1.57512,"c":1.57527},
{"i":400,"o":1.57527,"h":1.57550,"l":1.57522,"c":1.57534},
{"i":401,"o":1.57534,"h":1.57562,"l":1.57530,"c":1.57557},
{"i":402,"o":1.57557,"h":1.57575,"l":1.57545,"c":1.57555},
{"i":403,"o":1.57555,"h":1.57567,"l":1.57542,"c":1.57560},
{"i":404,"o":1.57560,"h":1.57572,"l":1.57550,"c":1.57558},
{"i":405,"o":1.57558,"h":1.57580,"l":1.57545,"c":1.57550},
{"i":406,"o":1.57550,"h":1.57555,"l":1.57500,"c":1.57534},
{"i":407,"o":1.57534,"h":1.57540,"l":1.57474,"c":1.57491},
{"i":408,"o":1.57491,"h":1.57492,"l":1.57475,"c":1.57481},
{"i":409,"o":1.57481,"h":1.57490,"l":1.57462,"c":1.57474},
{"i":410,"o":1.57474,"h":1.57477,"l":1.57440,"c":1.57454},
{"i":411,"o":1.57454,"h":1.57470,"l":1.57445,"c":1.57460},
{"i":412,"o":1.57460,"h":1.57472,"l":1.57428,"c":1.57431},
{"i":413,"o":1.57431,"h":1.57470,"l":1.57425,"c":1.57443},
{"i":414,"o":1.57443,"h":1.57447,"l":1.57402,"c":1.57420},
{"i":415,"o":1.57420,"h":1.57426,"l":1.57398,"c":1.57415},
{"i":416,"o":1.57415,"h":1.57470,"l":1.57398,"c":1.57448},
{"i":417,"o":1.57448,"h":1.57455,"l":1.57420,"c":1.57452},
{"i":418,"o":1.57452,"h":1.57458,"l":1.57414,"c":1.57454},
{"i":419,"o":1.57454,"h":1.57458,"l":1.57430,"c":1.57441},
{"i":420,"o":1.57441,"h":1.57443,"l":1.57408,"c":1.57412},
{"i":421,"o":1.57412,"h":1.57430,"l":1.57405,"c":1.57413},
{"i":422,"o":1.57413,"h":1.57420,"l":1.57393,"c":1.57412},
{"i":423,"o":1.57412,"h":1.57428,"l":1.57405,"c":1.57417},
{"i":424,"o":1.57417,"h":1.57420,"l":1.57402,"c":1.57407},
{"i":425,"o":1.57407,"h":1.57410,"l":1.57362,"c":1.57375},
{"i":426,"o":1.57378,"h":1.57385,"l":1.57360,"c":1.57368},
{"i":427,"o":1.57368,"h":1.57370,"l":1.57340,"c":1.57355},
{"i":428,"o":1.57355,"h":1.57397,"l":1.57347,"c":1.57394},
{"i":429,"o":1.57394,"h":1.57424,"l":1.57388,"c":1.57402},
{"i":430,"o":1.57398,"h":1.57403,"l":1.57385,"c":1.57392},
{"i":431,"o":1.57392,"h":1.57437,"l":1.57390,"c":1.57435},
{"i":432,"o":1.57435,"h":1.57507,"l":1.57428,"c":1.57474},
{"i":433,"o":1.57474,"h":1.57482,"l":1.57450,"c":1.57463},
{"i":434,"o":1.57463,"h":1.57480,"l":1.57447,"c":1.57476},
{"i":435,"o":1.57476,"h":1.57480,"l":1.57438,"c":1.57441},
{"i":436,"o":1.57441,"h":1.57443,"l":1.57407,"c":1.57414},
{"i":437,"o":1.57414,"h":1.57440,"l":1.57405,"c":1.57422},
{"i":438,"o":1.57422,"h":1.57440,"l":1.57410,"c":1.57434},
{"i":439,"o":1.57434,"h":1.57460,"l":1.57423,"c":1.57456},
{"i":440,"o":1.57456,"h":1.57462,"l":1.57422,"c":1.57426},
{"i":441,"o":1.57426,"h":1.57452,"l":1.57419,"c":1.57427},
{"i":442,"o":1.57427,"h":1.57455,"l":1.57423,"c":1.57453},
{"i":443,"o":1.57453,"h":1.57478,"l":1.57450,"c":1.57476},
{"i":444,"o":1.57476,"h":1.57496,"l":1.57473,"c":1.57491},
{"i":445,"o":1.57491,"h":1.57495,"l":1.57483,"c":1.57489},
{"i":446,"o":1.57489,"h":1.57500,"l":1.57480,"c":1.57499},
{"i":447,"o":1.57499,"h":1.57510,"l":1.57490,"c":1.57503},
{"i":448,"o":1.57506,"h":1.57508,"l":1.57479,"c":1.57481},
{"i":449,"o":1.57481,"h":1.57491,"l":1.57478,"c":1.57483},
{"i":450,"o":1.57483,"h":1.57507,"l":1.57478,"c":1.57507},
{"i":451,"o":1.57507,"h":1.57508,"l":1.57468,"c":1.57475},
{"i":452,"o":1.57475,"h":1.57497,"l":1.57460,"c":1.57493},
{"i":453,"o":1.57492,"h":1.57494,"l":1.57372,"c":1.57374},
{"i":454,"o":1.57374,"h":1.57377,"l":1.57349,"c":1.57353},
{"i":455,"o":1.57353,"h":1.57436,"l":1.57350,"c":1.57389},
{"i":456,"o":1.57385,"h":1.57504,"l":1.57375,"c":1.57394},
{"i":457,"o":1.57417,"h":1.57418,"l":1.57308,"c":1.57404},
{"i":458,"o":1.57404,"h":1.57529,"l":1.57390,"c":1.57407},
{"i":459,"o":1.57407,"h":1.57440,"l":1.57395,"c":1.57419},
{"i":460,"o":1.57419,"h":1.57425,"l":1.57393,"c":1.57414},
{"i":461,"o":1.57414,"h":1.57440,"l":1.57405,"c":1.57439},
{"i":462,"o":1.57439,"h":1.57446,"l":1.57432,"c":1.57442},
{"i":463,"o":1.57442,"h":1.57465,"l":1.57438,"c":1.57455},
{"i":464,"o":1.57455,"h":1.57458,"l":1.57437,"c":1.57451},
{"i":465,"o":1.57451,"h":1.57458,"l":1.57431,"c":1.57434},
{"i":466,"o":1.57434,"h":1.57451,"l":1.57423,"c":1.57448},
{"i":467,"o":1.57448,"h":1.57478,"l":1.57440,"c":1.57462},
{"i":468,"o":1.57462,"h":1.57473,"l":1.57453,"c":1.57466},
{"i":469,"o":1.57466,"h":1.57468,"l":1.57456,"c":1.57461},
{"i":470,"o":1.57461,"h":1.57490,"l":1.57457,"c":1.57478},
{"i":471,"o":1.57478,"h":1.57500,"l":1.57470,"c":1.57496},
{"i":472,"o":1.57496,"h":1.57521,"l":1.57490,"c":1.57518},
{"i":473,"o":1.57518,"h":1.57541,"l":1.57513,"c":1.57537},
{"i":474,"o":1.57537,"h":1.57548,"l":1.57521,"c":1.57533},
{"i":475,"o":1.57533,"h":1.57540,"l":1.57498,"c":1.57530},
{"i":476,"o":1.57530,"h":1.57540,"l":1.57510,"c":1.57523},
{"i":477,"o":1.57523,"h":1.57558,"l":1.57520,"c":1.57547},
{"i":478,"o":1.57547,"h":1.57585,"l":1.57545,"c":1.57568},
{"i":479,"o":1.57568,"h":1.57577,"l":1.57555,"c":1.57563},
{"i":480,"o":1.57563,"h":1.57566,"l":1.57546,"c":1.57556},
{"i":481,"o":1.57556,"h":1.57559,"l":1.57533,"c":1.57539},
{"i":482,"o":1.57539,"h":1.57542,"l":1.57522,"c":1.57526},
{"i":483,"o":1.57526,"h":1.57529,"l":1.57505,"c":1.57509},
{"i":484,"o":1.57509,"h":1.57538,"l":1.57502,"c":1.57535},
{"i":485,"o":1.57535,"h":1.57540,"l":1.57510,"c":1.57524},
{"i":486,"o":1.57524,"h":1.57533,"l":1.57500,"c":1.57509},
{"i":487,"o":1.57509,"h":1.57538,"l":1.57505,"c":1.57534},
{"i":488,"o":1.57534,"h":1.57542,"l":1.57494,"c":1.57515},
{"i":489,"o":1.57515,"h":1.57533,"l":1.57505,"c":1.57512},
{"i":490,"o":1.57512,"h":1.57528,"l":1.57493,"c":1.57519},
{"i":491,"o":1.57519,"h":1.57544,"l":1.57503,"c":1.57516},
{"i":492,"o":1.57516,"h":1.57532,"l":1.57505,"c":1.57515},
{"i":493,"o":1.57515,"h":1.57565,"l":1.57500,"c":1.57561},
{"i":494,"o":1.57561,"h":1.57588,"l":1.57549,"c":1.57553},
{"i":495,"o":1.57553,"h":1.57554,"l":1.57522,"c":1.57541},
{"i":496,"o":1.57541,"h":1.57552,"l":1.57518,"c":1.57546},
{"i":497,"o":1.57546,"h":1.57552,"l":1.57540,"c":1.57548},
{"i":498,"o":1.57548,"h":1.57568,"l":1.57545,"c":1.57563},
{"i":499,"o":1.57563,"h":1.57625,"l":1.57560,"c":1.57598},
{"i":500,"o":1.57598,"h":1.57681,"l":1.57580,"c":1.57594},
{"i":501,"o":1.57594,"h":1.57627,"l":1.57573,"c":1.57585},
{"i":502,"o":1.57585,"h":1.57608,"l":1.57521,"c":1.57535},
{"i":503,"o":1.57535,"h":1.57566,"l":1.57518,"c":1.57562},
{"i":504,"o":1.57562,"h":1.57599,"l":1.57552,"c":1.57593},
{"i":505,"o":1.57593,"h":1.57605,"l":1.57580,"c":1.57597},
{"i":506,"o":1.57597,"h":1.57632,"l":1.57578,"c":1.57622},
{"i":507,"o":1.57622,"h":1.57626,"l":1.57560,"c":1.57567},
{"i":508,"o":1.57567,"h":1.57605,"l":1.57548,"c":1.57599},
{"i":509,"o":1.57599,"h":1.57620,"l":1.57584,"c":1.57592},
{"i":510,"o":1.57592,"h":1.57600,"l":1.57572,"c":1.57578},
{"i":511,"o":1.57578,"h":1.57600,"l":1.57561,"c":1.57568},
{"i":512,"o":1.57568,"h":1.57572,"l":1.57550,"c":1.57558},
{"i":513,"o":1.57558,"h":1.57568,"l":1.57500,"c":1.57542},
{"i":514,"o":1.57542,"h":1.57570,"l":1.57525,"c":1.57559},
{"i":515,"o":1.57559,"h":1.57560,"l":1.57490,"c":1.57495},
{"i":516,"o":1.57495,"h":1.57520,"l":1.57461,"c":1.57514},
{"i":517,"o":1.57514,"h":1.57550,"l":1.57510,"c":1.57544},
{"i":518,"o":1.57544,"h":1.57548,"l":1.57505,"c":1.57521},
{"i":519,"o":1.57521,"h":1.57552,"l":1.57518,"c":1.57549},
{"i":520,"o":1.57549,"h":1.57572,"l":1.57540,"c":1.57560},
{"i":521,"o":1.57560,"h":1.57573,"l":1.57519,"c":1.57523},
{"i":522,"o":1.57523,"h":1.57545,"l":1.57506,"c":1.57540},
{"i":523,"o":1.57540,"h":1.57551,"l":1.57520,"c":1.57542},
{"i":524,"o":1.57542,"h":1.57553,"l":1.57532,"c":1.57548},
{"i":525,"o":1.57548,"h":1.57555,"l":1.57515,"c":1.57519},
{"i":526,"o":1.57519,"h":1.57540,"l":1.57500,"c":1.57525},
{"i":527,"o":1.57525,"h":1.57538,"l":1.57518,"c":1.57529},
{"i":528,"o":1.57525,"h":1.57535,"l":1.57516,"c":1.57528},
{"i":529,"o":1.57528,"h":1.57560,"l":1.57520,"c":1.57557},
{"i":530,"o":1.57557,"h":1.57627,"l":1.57555,"c":1.57620},
{"i":531,"o":1.57620,"h":1.57632,"l":1.57575,"c":1.57580},
{"i":532,"o":1.57580,"h":1.57583,"l":1.57550,"c":1.57571},
{"i":533,"o":1.57571,"h":1.57573,"l":1.57528,"c":1.57535},
{"i":534,"o":1.57535,"h":1.57538,"l":1.57472,"c":1.57477},
{"i":535,"o":1.57477,"h":1.57494,"l":1.57475,"c":1.57483},
{"i":536,"o":1.57483,"h":1.57493,"l":1.57460,"c":1.57481},
{"i":537,"o":1.57481,"h":1.57508,"l":1.57478,"c":1.57506},
{"i":538,"o":1.57506,"h":1.57515,"l":1.57490,"c":1.57500},
{"i":539,"o":1.57500,"h":1.57510,"l":1.57482,"c":1.57501},
{"i":540,"o":1.57500,"h":1.57520,"l":1.57490,"c":1.57518},
{"i":541,"o":1.57518,"h":1.57529,"l":1.57508,"c":1.57526},
{"i":542,"o":1.57526,"h":1.57528,"l":1.57493,"c":1.57504},
{"i":543,"o":1.57504,"h":1.57528,"l":1.57500,"c":1.57518},
{"i":544,"o":1.57518,"h":1.57563,"l":1.57514,"c":1.57555},
{"i":545,"o":1.57555,"h":1.57563,"l":1.57533,"c":1.57537},
{"i":546,"o":1.57537,"h":1.57540,"l":1.57503,"c":1.57506},
{"i":547,"o":1.57506,"h":1.57510,"l":1.57478,"c":1.57491},
{"i":548,"o":1.57491,"h":1.57510,"l":1.57485,"c":1.57507},
{"i":549,"o":1.57507,"h":1.57520,"l":1.57501,"c":1.57509},
{"i":550,"o":1.57510,"h":1.57512,"l":1.57480,"c":1.57484},
{"i":551,"o":1.57484,"h":1.57490,"l":1.57455,"c":1.57465},
{"i":552,"o":1.57468,"h":1.57499,"l":1.57455,"c":1.57494},
{"i":553,"o":1.57494,"h":1.57499,"l":1.57470,"c":1.57476},
{"i":554,"o":1.57476,"h":1.57491,"l":1.57465,"c":1.57487},
{"i":555,"o":1.57487,"h":1.57491,"l":1.57436,"c":1.57448},
{"i":556,"o":1.57448,"h":1.57468,"l":1.57440,"c":1.57463},
{"i":557,"o":1.57463,"h":1.57510,"l":1.57456,"c":1.57491},
{"i":558,"o":1.57491,"h":1.57494,"l":1.57472,"c":1.57481},
{"i":559,"o":1.57481,"h":1.57483,"l":1.57426,"c":1.57430},
{"i":560,"o":1.57430,"h":1.57432,"l":1.57386,"c":1.57400},
{"i":561,"o":1.57400,"h":1.57401,"l":1.57366,"c":1.57375},
{"i":562,"o":1.57375,"h":1.57419,"l":1.57364,"c":1.57406},
{"i":563,"o":1.57406,"h":1.57441,"l":1.57400,"c":1.57424},
{"i":564,"o":1.57424,"h":1.57435,"l":1.57395,"c":1.57408},
{"i":565,"o":1.57408,"h":1.57411,"l":1.57390,"c":1.57401},
{"i":566,"o":1.57401,"h":1.57418,"l":1.57385,"c":1.57404},
{"i":567,"o":1.57405,"h":1.57408,"l":1.57372,"c":1.57378},
{"i":568,"o":1.57378,"h":1.57431,"l":1.57372,"c":1.57424},
{"i":569,"o":1.57424,"h":1.57427,"l":1.57375,"c":1.57380},
{"i":570,"o":1.57380,"h":1.57413,"l":1.57378,"c":1.57405},
{"i":571,"o":1.57405,"h":1.57457,"l":1.57403,"c":1.57448},
{"i":572,"o":1.57448,"h":1.57464,"l":1.57416,"c":1.57426},
{"i":573,"o":1.57426,"h":1.57457,"l":1.57376,"c":1.57432},
{"i":574,"o":1.57432,"h":1.57480,"l":1.57430,"c":1.57471},
{"i":575,"o":1.57471,"h":1.57480,"l":1.57446,"c":1.57455},
{"i":576,"o":1.57455,"h":1.57490,"l":1.57440,"c":1.57481},
{"i":577,"o":1.57481,"h":1.57494,"l":1.57425,"c":1.57442},
{"i":578,"o":1.57442,"h":1.57448,"l":1.57400,"c":1.57428},
{"i":579,"o":1.57428,"h":1.57443,"l":1.57411,"c":1.57435},
{"i":580,"o":1.57435,"h":1.57462,"l":1.57420,"c":1.57444},
{"i":581,"o":1.57444,"h":1.57450,"l":1.57410,"c":1.57415},
{"i":582,"o":1.57415,"h":1.57449,"l":1.57412,"c":1.57447},
{"i":583,"o":1.57447,"h":1.57478,"l":1.57420,"c":1.57441},
{"i":584,"o":1.57441,"h":1.57444,"l":1.57405,"c":1.57427},
{"i":585,"o":1.57427,"h":1.57450,"l":1.57420,"c":1.57438},
{"i":586,"o":1.57438,"h":1.57463,"l":1.57426,"c":1.57454},
{"i":587,"o":1.57454,"h":1.57512,"l":1.57450,"c":1.57509},
{"i":588,"o":1.57491,"h":1.57527,"l":1.57480,"c":1.57511},
{"i":589,"o":1.57487,"h":1.57530,"l":1.57480,"c":1.57523},
{"i":590,"o":1.57523,"h":1.57534,"l":1.57472,"c":1.57486},
{"i":591,"o":1.57486,"h":1.57488,"l":1.57464,"c":1.57473},
{"i":592,"o":1.57473,"h":1.57523,"l":1.57470,"c":1.57519},
{"i":593,"o":1.57519,"h":1.57526,"l":1.57488,"c":1.57494},
{"i":594,"o":1.57494,"h":1.57498,"l":1.57460,"c":1.57478},
{"i":595,"o":1.57478,"h":1.57485,"l":1.57440,"c":1.57475},
{"i":596,"o":1.57475,"h":1.57477,"l":1.57410,"c":1.57414},
{"i":597,"o":1.57414,"h":1.57420,"l":1.57348,"c":1.57386},
{"i":598,"o":1.57386,"h":1.57420,"l":1.57385,"c":1.57409},
{"i":599,"o":1.57409,"h":1.57437,"l":1.57403,"c":1.57433},
{"i":600,"o":1.57433,"h":1.57452,"l":1.57411,"c":1.57418},
{"i":601,"o":1.57418,"h":1.57475,"l":1.57416,"c":1.57471},
{"i":602,"o":1.57471,"h":1.57505,"l":1.57464,"c":1.57502},
{"i":603,"o":1.57502,"h":1.57537,"l":1.57486,"c":1.57533},
{"i":604,"o":1.57533,"h":1.57553,"l":1.57521,"c":1.57546},
{"i":605,"o":1.57546,"h":1.57549,"l":1.57524,"c":1.57538},
{"i":606,"o":1.57538,"h":1.57540,"l":1.57511,"c":1.57523},
{"i":607,"o":1.57523,"h":1.57573,"l":1.57519,"c":1.57547},
{"i":608,"o":1.57547,"h":1.57563,"l":1.57532,"c":1.57558},
{"i":609,"o":1.57558,"h":1.57574,"l":1.57540,"c":1.57553},
{"i":610,"o":1.57553,"h":1.57575,"l":1.57544,"c":1.57573},
{"i":611,"o":1.57567,"h":1.57601,"l":1.57562,"c":1.57593},
{"i":612,"o":1.57593,"h":1.57597,"l":1.57563,"c":1.57567},
{"i":613,"o":1.57570,"h":1.57572,"l":1.57512,"c":1.57514},
{"i":614,"o":1.57514,"h":1.57530,"l":1.57490,"c":1.57521},
{"i":615,"o":1.57521,"h":1.57551,"l":1.57477,"c":1.57497},
{"i":616,"o":1.57497,"h":1.57525,"l":1.57480,"c":1.57521},
{"i":617,"o":1.57521,"h":1.57527,"l":1.57476,"c":1.57491},
{"i":618,"o":1.57491,"h":1.57511,"l":1.57473,"c":1.57508},
{"i":619,"o":1.57508,"h":1.57513,"l":1.57466,"c":1.57494},
{"i":620,"o":1.57494,"h":1.57534,"l":1.57486,"c":1.57524},
{"i":621,"o":1.57524,"h":1.57535,"l":1.57466,"c":1.57503},
{"i":622,"o":1.57503,"h":1.57510,"l":1.57455,"c":1.57474},
{"i":623,"o":1.57474,"h":1.57478,"l":1.57420,"c":1.57434},
{"i":624,"o":1.57434,"h":1.57437,"l":1.57387,"c":1.57422},
{"i":625,"o":1.57422,"h":1.57463,"l":1.57415,"c":1.57458},
{"i":626,"o":1.57458,"h":1.57475,"l":1.57438,"c":1.57447},
{"i":627,"o":1.57447,"h":1.57469,"l":1.57425,"c":1.57452},
{"i":628,"o":1.57452,"h":1.57455,"l":1.57420,"c":1.57426},
{"i":629,"o":1.57426,"h":1.57430,"l":1.57376,"c":1.57416},
{"i":630,"o":1.57416,"h":1.57436,"l":1.57402,"c":1.57420},
{"i":631,"o":1.57420,"h":1.57422,"l":1.57385,"c":1.57406},
{"i":632,"o":1.57406,"h":1.57414,"l":1.57394,"c":1.57409},
{"i":633,"o":1.57409,"h":1.57437,"l":1.57384,"c":1.57419},
{"i":634,"o":1.57418,"h":1.57422,"l":1.57328,"c":1.57372},
{"i":635,"o":1.57372,"h":1.57481,"l":1.57370,"c":1.57472},
{"i":636,"o":1.57472,"h":1.57515,"l":1.57458,"c":1.57511},
{"i":637,"o":1.57511,"h":1.57538,"l":1.57505,"c":1.57514},
{"i":638,"o":1.57514,"h":1.57531,"l":1.57500,"c":1.57511},
{"i":639,"o":1.57511,"h":1.57517,"l":1.57430,"c":1.57438},
{"i":640,"o":1.57461,"h":1.57521,"l":1.57430,"c":1.57434},
{"i":641,"o":1.57434,"h":1.57440,"l":1.57400,"c":1.57428},
{"i":642,"o":1.57428,"h":1.57493,"l":1.57420,"c":1.57448},
{"i":643,"o":1.57448,"h":1.57450,"l":1.57405,"c":1.57422},
{"i":644,"o":1.57422,"h":1.57450,"l":1.57415,"c":1.57438},
{"i":645,"o":1.57438,"h":1.57455,"l":1.57420,"c":1.57451},
{"i":646,"o":1.57451,"h":1.57490,"l":1.57445,"c":1.57461},
{"i":647,"o":1.57461,"h":1.57480,"l":1.57434,"c":1.57464},
{"i":648,"o":1.57464,"h":1.57468,"l":1.57392,"c":1.57435},
{"i":649,"o":1.57435,"h":1.57438,"l":1.57380,"c":1.57391},
{"i":650,"o":1.57391,"h":1.57416,"l":1.57390,"c":1.57414},
{"i":651,"o":1.57414,"h":1.57488,"l":1.57405,"c":1.57461},
{"i":652,"o":1.57461,"h":1.57472,"l":1.57439,"c":1.57459}
]},
"layer":[
{"mark":{"type":"rule","color":"black","strokeWidth":1},
 "encoding":{
  "x":{"field":"i","type":"quantitative","scale":{"domain":[-0.125,803.625],"nice":false,"zero":false},
   "axis":{"orient":"bottom","title":null,"values":[0,16,32,48,64,80,96,112,128,144,160,176,192,208,224,240,256,272,288,304,320,336,352,368,384,400,416,432,448,464,480,496,512,528,544,560,576,592,608,624,640,656,672,688,704,720,736,752,768,784,800],
    "grid":true,"gridColor":"#C0C0C0","gridDash":[3,3],"gridWidth":1,"domain":false,"translate":0,
    "ticks":true,"tickColor":"black","tickSize":4,
    "tickOpacity":{"condition":{"test":"datum.value % 32 != 0 || datum.value > 640","value":0},"value":1},
    "labelExpr":"(datum.value % 32 == 0 && datum.value <= 640) ? ['25 May 2021','25 May 12:50','25 May 15:30','25 May 18:10','25 May 20:50','25 May 23:30','26 May 02:10','26 May 04:50','26 May 07:30','26 May 10:10','26 May 12:50','26 May 15:30','26 May 18:10','26 May 20:50','26 May 23:30','27 May 02:10','27 May 04:50','27 May 07:30','27 May 10:10','27 May 12:50','27 May 15:30'][datum.value/32] : ''",
    "labelAlign":"left","labelBaseline":"top","labelPadding":3,"labelFont":"DejaVu Sans","labelFontSize":17,"labelColor":"black","labelOverlap":false,"labelBound":false,"labelFlush":false}},
  "y":{"field":"l","type":"quantitative","scale":{"domain":[1.5722206,1.5814065],"nice":false,"zero":false},
   "axis":{"orient":"right","title":null,"values":[1.5726,1.573,1.5734,1.5738,1.5742,1.5746,1.575,1.5754,1.5758,1.5762,1.5766,1.577,1.5774,1.5778,1.5782,1.5786,1.579,1.5794,1.5798,1.5802,1.5806,1.581],
    "format":".5f","grid":true,"gridColor":"#C0C0C0","gridDash":[3,3],"gridWidth":1,"domain":false,
    "tickColor":"black","tickSize":4,
    "tickOpacity":{"condition":{"test":"abs(datum.value - 1.5746) < 0.000001","value":0},"value":1},
    "labelExpr":"abs(datum.value - 1.5746) < 0.000001 ? '' : datum.label",
    "labelPadding":1,"labelFont":"DejaVu Sans","labelFontSize":16,"labelColor":"black","labelBaseline":"middle","labelOverlap":false,"labelBound":false}},
  "y2":{"field":"h"}}},
{"data":{"values":[{"bid":1.57459}]},
 "mark":{"type":"rule","color":"#C0C0C0","strokeWidth":1},
 "encoding":{"y":{"field":"bid","type":"quantitative"}}},
{"mark":{"type":"bar","size":3,"xOffset":0.5,"stroke":"black","strokeWidth":1},
 "encoding":{
  "x":{"field":"i","type":"quantitative"},
  "y":{"field":"o","type":"quantitative"},
  "y2":{"field":"c"},
  "fill":{"condition":{"test":"datum.c >= datum.o","value":"#22B422"},"value":"#FF0000"}}},
{"data":{"values":[{"from":407.6,"to":699.4,"level":1.57383}]},
 "mark":{"type":"rule","color":"#BDB76B","strokeWidth":2.5},
 "encoding":{"x":{"field":"from","type":"quantitative"},"x2":{"field":"to"},"y":{"field":"level","type":"quantitative"}}},
{"data":{"values":[{"x1":665.85,"p1":1.57449,"x2":674.1,"p2":1.57834}]},
 "mark":{"type":"rule","color":"#98FB98","strokeWidth":2},
 "encoding":{"x":{"field":"x1","type":"quantitative"},"y":{"field":"p1","type":"quantitative"},"x2":{"field":"x2"},"y2":{"field":"p2"}}},
{"data":{"values":[{"x2":674.1,"p2":1.57834}]},
 "mark":{"type":"point","shape":"triangle-up","filled":true,"color":"#98FB98","size":30,"angle":3,"opacity":1},
 "encoding":{"x":{"field":"x2","type":"quantitative"},"y":{"field":"p2","type":"quantitative"}}},
{"data":{"values":[{"bid":1.57459}]},
 "mark":{"type":"rect","color":"#C0C0C0"},
 "encoding":{"x":{"datum":804.4,"type":"quantitative"},"x2":{"datum":823.9},"y":{"datum":1.574525,"type":"quantitative"},"y2":{"datum":1.574655}}},
{"data":{"values":[{"bid":1.57459}]},
 "mark":{"type":"text","color":"white","font":"DejaVu Sans","fontSize":16,"align":"center","baseline":"middle"},
 "encoding":{"x":{"datum":814.15,"type":"quantitative"},"y":{"field":"bid","type":"quantitative"},"text":{"field":"bid","type":"quantitative","format":".5f"}}}
]
}
